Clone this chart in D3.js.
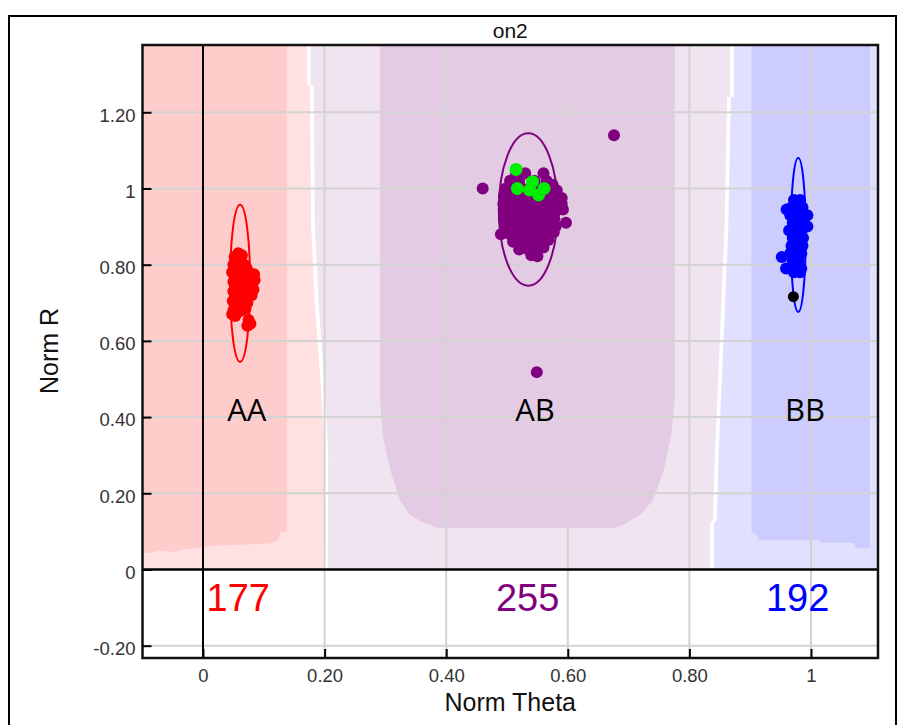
<!DOCTYPE html>
<html>
<head>
<meta charset="utf-8">
<script src="https://cdn.jsdelivr.net/npm/d3@7"></script>
<style>
body { margin: 0; background: #fff; }
text { font-family: "Liberation Sans", Arial, sans-serif; }
</style>
</head>
<body>
<svg id="chart" width="908" height="725"></svg>
<script>
// ---- data ----
var titleText = "on2";
var xLabel = "Norm Theta", yLabel = "Norm R";
var xTicks = [0, 0.2, 0.4, 0.6, 0.8, 1];
var yTicks = [-0.2, 0, 0.2, 0.4, 0.6, 0.8, 1, 1.2];
var xDomain = [-0.0995, 1.1102];
var yDomain = [-0.2323, 1.3766];

var clusterNames = ["AA", "AB", "BB"];
var clusterCounts = [177, 255, 192];
var clusterColors = ["#ff0000", "#800080", "#0000ff"];
var ellipseCenters = [[0.061, 0.751], [0.535, 0.945], [0.979, 0.878]];
var ellipseRadii = [[0.0165, 0.206], [0.0485, 0.2], [0.0123, 0.202]];
var namePos = [[0.072, 0.39], [0.546, 0.39], [0.99, 0.39]];
var countPos = [[0.058, -0.11], [0.534, -0.11], [0.978, -0.11]];

// call regions (theta, R polygons)
var lightPinkZone = [[-0.12,1.45],[0.171,1.45],[0.171,1.27],[0.176,1.27],[0.178,0.9],[0.184,0.7],[0.193,0.5],[0.197,0.4],[0.2,0.3],[0.199,0],[-0.12,0]];
var darkPinkZone = [[-0.12,1.45],[0.138,1.45],[0.138,0.10],[0.128,0.097],[0.122,0.075],[0.11,0.068],[0.08,0.066],[0.05,0.064],[0.02,0.063],[0.0,0.058],[-0.03,0.053],[-0.05,0.046],[-0.07,0.05],[-0.09,0.043],[-0.12,0.045]];
var lightPurpleZone = [[0.177,1.45],[0.867,1.45],[0.867,1.24],[0.862,1.24],[0.858,0.9],[0.85,0.6],[0.842,0.3],[0.839,0.13],[0.834,0.12],[0.834,0],[0.205,0],[0.206,0.3],[0.203,0.4],[0.199,0.5],[0.19,0.7],[0.184,0.9],[0.182,1.27],[0.177,1.27]];
var darkPurpleZone = [[0.291,1.45],[0.776,1.45],[0.776,0.445],[0.77,0.35],[0.758,0.261],[0.74,0.182],[0.719,0.143],[0.695,0.12],[0.678,0.109],[0.385,0.109],[0.36,0.125],[0.34,0.143],[0.324,0.182],[0.308,0.261],[0.296,0.35],[0.291,0.445]];
var lightBlueZone = [[0.873,1.45],[1.15,1.45],[1.15,0],[0.84,0],[0.84,0.12],[0.845,0.13],[0.848,0.3],[0.856,0.6],[0.864,0.9],[0.868,1.24],[0.873,1.24]];
var darkBlueZone = [[0.902,1.45],[1.097,1.45],[1.097,0.056],[1.075,0.056],[1.07,0.07],[1.015,0.07],[1.015,0.077],[0.915,0.077],[0.911,0.09],[0.902,0.1]];

var aaPoints = [[0.052,0.82],[0.058,0.83],[0.064,0.825],[0.05,0.80],[0.056,0.80],[0.062,0.805],[0.068,0.80],[0.072,0.79],
  [0.048,0.78],[0.054,0.775],[0.06,0.78],[0.066,0.775],[0.072,0.77],[0.078,0.77],[0.084,0.775],[0.085,0.76],
  [0.05,0.755],[0.056,0.75],[0.062,0.755],[0.068,0.75],[0.074,0.745],[0.08,0.75],[0.083,0.735],[0.05,0.73],
  [0.056,0.725],[0.062,0.73],[0.068,0.725],[0.074,0.72],[0.08,0.72],[0.049,0.705],[0.055,0.70],[0.061,0.705],
  [0.067,0.70],[0.073,0.70],[0.05,0.68],[0.057,0.675],[0.064,0.68],[0.07,0.685],[0.048,0.67],[0.053,0.665],
  [0.075,0.655],[0.078,0.645],[0.073,0.64]];
var abPoints = [[0.515,1.04],[0.53,1.04],[0.56,1.04],
  [0.505,1.02],[0.52,1.02],[0.545,1.02],[0.565,1.02],[0.575,1.01],
  [0.498,1.0],[0.51,1.0],[0.525,1.0],[0.54,1.0],[0.555,1.0],[0.57,1.0],[0.582,0.995],
  [0.495,0.98],[0.508,0.98],[0.522,0.98],[0.536,0.98],[0.55,0.98],[0.565,0.98],[0.578,0.98],[0.59,0.975],
  [0.494,0.96],[0.507,0.96],[0.52,0.96],[0.534,0.96],[0.548,0.96],[0.562,0.96],[0.576,0.96],[0.59,0.96],
  [0.496,0.94],[0.51,0.94],[0.524,0.94],[0.538,0.94],[0.552,0.94],[0.566,0.94],[0.58,0.94],[0.592,0.945],
  [0.495,0.92],[0.508,0.92],[0.522,0.92],[0.536,0.92],[0.55,0.92],[0.564,0.92],[0.578,0.92],[0.597,0.91],
  [0.497,0.90],[0.51,0.90],[0.524,0.90],[0.538,0.90],[0.552,0.90],[0.566,0.90],[0.58,0.90],
  [0.49,0.88],[0.505,0.88],[0.52,0.88],[0.535,0.88],[0.55,0.88],[0.565,0.88],[0.577,0.885],
  [0.51,0.86],[0.525,0.86],[0.54,0.86],[0.555,0.86],[0.568,0.865],
  [0.52,0.84],[0.535,0.84],[0.548,0.84],[0.56,0.845],[0.54,0.825],[0.55,0.822],
  [0.46,1.0],[0.676,1.14],[0.549,0.518]];
var bbPoints = [[0.972,0.97],[0.982,0.97],[0.968,0.95],[0.978,0.95],[0.986,0.95],[0.966,0.93],[0.976,0.93],[0.986,0.93],
  [0.97,0.91],[0.98,0.91],[0.988,0.91],[0.964,0.89],[0.974,0.89],[0.984,0.89],[0.97,0.87],[0.98,0.87],[0.987,0.87],
  [0.968,0.85],[0.978,0.85],[0.986,0.85],[0.966,0.83],[0.976,0.83],[0.984,0.83],[0.97,0.81],[0.98,0.81],
  [0.966,0.79],[0.976,0.79],[0.984,0.79],[0.972,0.78],[0.982,0.78],
  [0.952,0.82],[0.959,0.79],[0.96,0.945],[0.994,0.93],[0.994,0.9]];
var greenPoints = [[0.515,1.05],[0.517,1.0],[0.542,1.018],[0.537,0.996],[0.561,1.0],[0.552,0.983]];
var blackPoints = [[0.971,0.716]];

var tickLabel = function (v) {
    if (v == 0) return "0";
    if (v == 1) return "1";
    return v.toFixed(2);
};

// ---- layout ----
var plotLeft = 142.5, plotRight = 878, plotTop = 45, plotBottom = 658;
var svg = d3.select("#chart");

var x = d3.scaleLinear().domain(xDomain).range([plotLeft, plotRight]);
var y = d3.scaleLinear().domain(yDomain).range([plotBottom, plotTop]);

// outer frame
svg.append("rect")
    .attr("x", 9).attr("y", 16).attr("width", 887).attr("height", 720)
    .attr("fill", "none").attr("stroke", "#000").attr("stroke-width", 2);

svg.append("clipPath").attr("id", "plotclip")
    .append("rect")
    .attr("x", plotLeft).attr("y", plotTop)
    .attr("width", plotRight - plotLeft).attr("height", plotBottom - plotTop);

var g = svg.append("g").attr("clip-path", "url(#plotclip)");

var line = d3.line()
    .x(function (d) {return x(d[0]);})
    .y(function (d) {return y(d[1]);})
    .curve(d3.curveLinearClosed);

var zones = [
    [lightPinkZone, "#ffe1e1"],
    [darkPinkZone, "#ffcccc"],
    [lightPurpleZone, "#f0e4f0"],
    [darkPurpleZone, "#e3cce3"],
    [lightBlueZone, "#e1e1ff"],
    [darkBlueZone, "#ccccff"]
];
g.selectAll("path.zone")
    .data(zones)
    .enter()
    .append("path")
    .attr("class", "zone")
    .attr("d", function (d) {return line(d[0]);})
    .attr("fill", function (d) {return d[1];});

// grid
g.selectAll("line.vgrid")
    .data(xTicks.filter(function (d) {return d != 0;}))
    .enter()
    .append("line")
    .attr("x1", function (d) {return x(d);}).attr("x2", function (d) {return x(d);})
    .attr("y1", plotTop).attr("y2", plotBottom)
    .attr("stroke", "#d3d3d3").attr("stroke-width", 2);
g.selectAll("line.hgrid")
    .data(yTicks.filter(function (d) {return d != 0;}))
    .enter()
    .append("line")
    .attr("y1", function (d) {return y(d);}).attr("y2", function (d) {return y(d);})
    .attr("x1", plotLeft).attr("x2", plotRight)
    .attr("stroke", "#d3d3d3").attr("stroke-width", 2);

// zero lines
g.append("line")
    .attr("x1", x(0)).attr("x2", x(0)).attr("y1", plotTop).attr("y2", plotBottom)
    .attr("stroke", "#000").attr("stroke-width", 2);
g.append("line")
    .attr("x1", plotLeft).attr("x2", plotRight).attr("y1", y(0)).attr("y2", y(0))
    .attr("stroke", "#000").attr("stroke-width", 2.5);

// ellipses
g.selectAll("ellipse")
    .data(clusterNames)
    .enter()
    .append("ellipse")
    .attr("cx", function (d, i) {return x(ellipseCenters[i][0]);})
    .attr("cy", function (d, i) {return y(ellipseCenters[i][1]);})
    .attr("rx", function (d, i) {return x(ellipseRadii[i][0]) - x(0);})
    .attr("ry", function (d, i) {return y(0) - y(ellipseRadii[i][1]);})
    .attr("fill", "none")
    .attr("stroke", function (d, i) {return clusterColors[i];})
    .attr("stroke-width", 2);

// points
var sets = [
    [aaPoints, clusterColors[0], 6],
    [abPoints, clusterColors[1], 6],
    [bbPoints, clusterColors[2], 6],
    [greenPoints, "#00ee00", 6.5],
    [blackPoints, "#000", 5.5]
];
sets.forEach(function (s) {
    g.append("g").selectAll("circle")
        .data(s[0])
        .enter()
        .append("circle")
        .attr("cx", function (d) {return x(d[0]);})
        .attr("cy", function (d) {return y(d[1]);})
        .attr("r", s[2])
        .attr("fill", s[1]);
});

// cluster names
g.selectAll("text.name")
    .data(clusterNames)
    .enter()
    .append("text")
    .attr("class", "name")
    .attr("x", function (d, i) {return x(namePos[i][0]);})
    .attr("y", function (d, i) {return y(namePos[i][1]);})
    .attr("text-anchor", "middle")
    .style("font-family", "'Open Sans', 'Liberation Sans', sans-serif")
    .style("font-size", "31px")
    .attr("fill", "#000")
    .text(function (d) {return d;});

// counts
g.selectAll("text.count")
    .data(clusterCounts)
    .enter()
    .append("text")
    .attr("class", "count")
    .attr("x", function (d, i) {return x(countPos[i][0]);})
    .attr("y", function (d, i) {return y(countPos[i][1]);})
    .attr("text-anchor", "middle")
    .style("font-size", "38px")
    .attr("fill", function (d, i) {return clusterColors[i];})
    .text(function (d) {return d;});

// plot border
svg.append("rect")
    .attr("x", plotLeft).attr("y", plotTop)
    .attr("width", plotRight - plotLeft).attr("height", plotBottom - plotTop)
    .attr("fill", "none").attr("stroke", "#111").attr("stroke-width", 2.5);

// axes
var yAxis = d3.axisLeft(y).tickValues(yTicks).tickFormat(tickLabel).tickSize(-9).tickPadding(7);
var xAxis = d3.axisBottom(x).tickValues(xTicks).tickFormat(tickLabel).tickSize(-9).tickPadding(11);

var ya = svg.append("g").attr("transform", "translate(" + plotLeft + ",0)").call(yAxis);
var xa = svg.append("g").attr("transform", "translate(0," + plotBottom + ")").call(xAxis);
[ya, xa].forEach(function (a) {
    a.select(".domain").remove();
    a.selectAll(".tick line").attr("stroke", "#000").attr("stroke-width", 2);
    a.selectAll("text")
        .style("font-size", "18.5px")
        .style("font-family", "'Liberation Sans', Arial, sans-serif")
        .attr("fill", "#333");
});
ya.selectAll("text").attr("dy", "0.48em");

// titles
svg.append("text")
    .attr("x", (plotLeft + plotRight) / 2).attr("y", 38)
    .attr("text-anchor", "middle")
    .style("font-size", "21px")
    .attr("fill", "#111")
    .text(titleText);
svg.append("text")
    .attr("x", (plotLeft + plotRight) / 2).attr("y", 711)
    .attr("text-anchor", "middle")
    .style("font-size", "25px")
    .attr("fill", "#111")
    .text(xLabel);
svg.append("text")
    .attr("transform", "translate(58,351) rotate(-90)")
    .attr("text-anchor", "middle")
    .style("font-size", "25px")
    .attr("fill", "#111")
    .text(yLabel);
</script>
</body>
</html>
